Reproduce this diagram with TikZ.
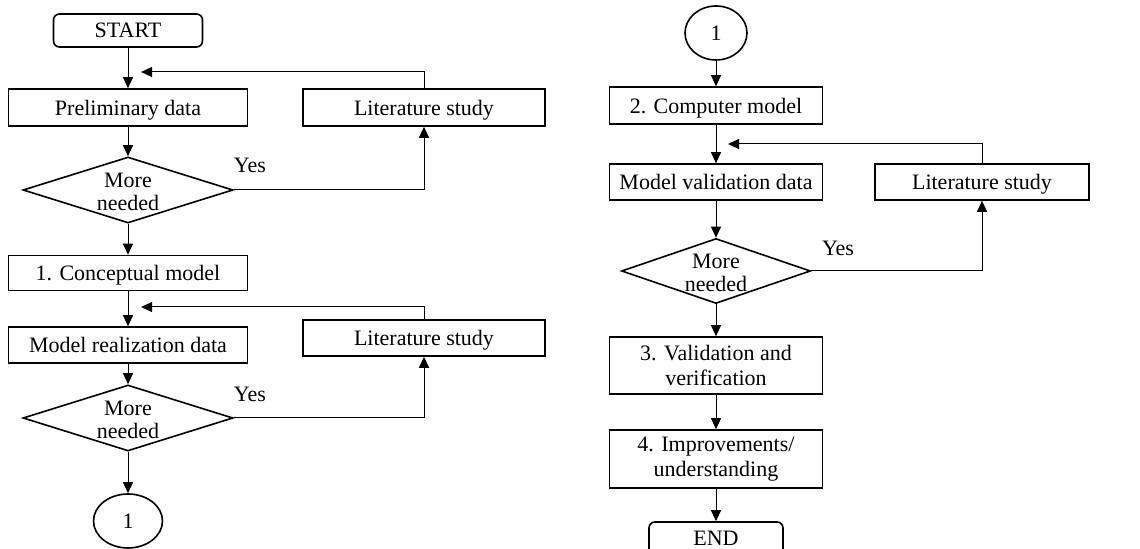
\documentclass[tikz,border=0pt]{standalone}
\usepackage{fontspec}
\setmainfont{Liberation Serif}
\usetikzlibrary{arrows.meta,shapes.geometric}
\begin{document}
\begin{tikzpicture}[x=0.5pt,y=-0.5pt,
  font=\fontsize{11}{12.5}\selectfont,
  box/.style={draw,line width=0.8pt,inner sep=0pt,align=center,minimum height=18.5pt},
  one/.style={text depth=0pt},
  lbox/.style={box,one,minimum width=119.5pt},
  rbox/.style={box,minimum width=106.5pt},
  term/.style={draw,line width=0.8pt,rounded corners=3pt,inner sep=0pt,text depth=0pt},
  dec/.style={draw,line width=0.8pt,shape=diamond,inner sep=0pt},
  conn/.style={draw,line width=0.8pt,shape=ellipse,inner sep=0pt},
  arr/.style={-{Triangle[length=5.5pt,width=5pt]},line width=0.5pt}]
\useasboundingbox (0,0) rectangle (1140,549);
\newcommand{\dtext}[1]{\smash{\raisebox{-4.5pt}{\begin{tabular}{@{}c@{}}#1\end{tabular}}}}
% left column
\node[term,minimum width=74.5pt,minimum height=16.5pt] (start) at (128,30.5) {START};
\node[lbox] (prelim) at (128,107.5) {Preliminary data};
\node[box,one,minimum width=121pt] (lit1) at (424,107.5) {Literature study};
\node[dec,minimum width=105pt,minimum height=33pt] (dia1) at (128,190) {\dtext{More\\[-1pt]needed}};
\node (yes1) at (250,165) {Yes};
\node[lbox,minimum height=17.5pt] (concept) at (128,273) {1. Conceptual model};
\node[lbox,minimum height=18pt] (realiz) at (128,345) {Model realization data};
\node[box,one,minimum width=121pt,minimum height=18pt] (lit2) at (424,338) {Literature study};
\node[dec,minimum width=105pt,minimum height=33pt] (dia2) at (128,418) {\dtext{More\\[-1pt]needed}};
\node (yes2) at (250,394) {Yes};
\node[conn,minimum width=34.5pt,minimum height=27pt] (c1) at (128,521) {1};
\coordinate (fb1) at (141,72);
\coordinate (fb2) at (141,307);
\draw[arr] (start) -- (prelim);
\draw[arr] (prelim) -- (dia1);
\draw[arr] (dia1) -- (concept);
\draw[arr] (concept) -- (realiz);
\draw[arr] (realiz) -- (dia2);
\draw[arr] (dia2) -- (c1);
\draw[arr] (lit1.north) |- (fb1);
\draw[arr] (dia1.east) -| (lit1.south);
\draw[arr] (lit2.north) |- (fb2);
\draw[arr] (dia2.east) -| (lit2.south);
% right column
\node[conn,minimum width=31pt,minimum height=27pt] (c2) at (716,33) {1};
\node[rbox,one] (comp) at (716,105.5) {2. Computer model};
\node[rbox,one,minimum height=18pt] (valid) at (716,182) {Model validation data};
\node[box,one,minimum width=107pt,minimum height=18pt] (lit3) at (982,182) {Literature study};
\node[dec,minimum width=94.5pt,minimum height=32.5pt] (dia3) at (716,271) {\dtext{More\\[-1pt]needed}};
\node (yes3) at (838,248) {Yes};
\node[rbox,minimum height=28.5pt] (vv) at (716,365.5) {3. Validation and\\verification};
\node[rbox,minimum height=29pt] (impr) at (716,459) {4. Improvements/\\understanding};
\node[term,minimum width=67pt,minimum height=16.5pt] (end) at (716,538.5) {END};
\coordinate (fb3) at (728,144);
\draw[arr] (c2) -- (comp);
\draw[arr] (comp) -- (valid);
\draw[arr] (valid) -- (dia3);
\draw[arr] (dia3) -- (vv);
\draw[arr] (vv) -- (impr);
\draw[arr] (impr) -- (end);
\draw[arr] (lit3.north) |- (fb3);
\draw[arr] (dia3.east) -| (lit3.south);
\end{tikzpicture}
\end{document}
